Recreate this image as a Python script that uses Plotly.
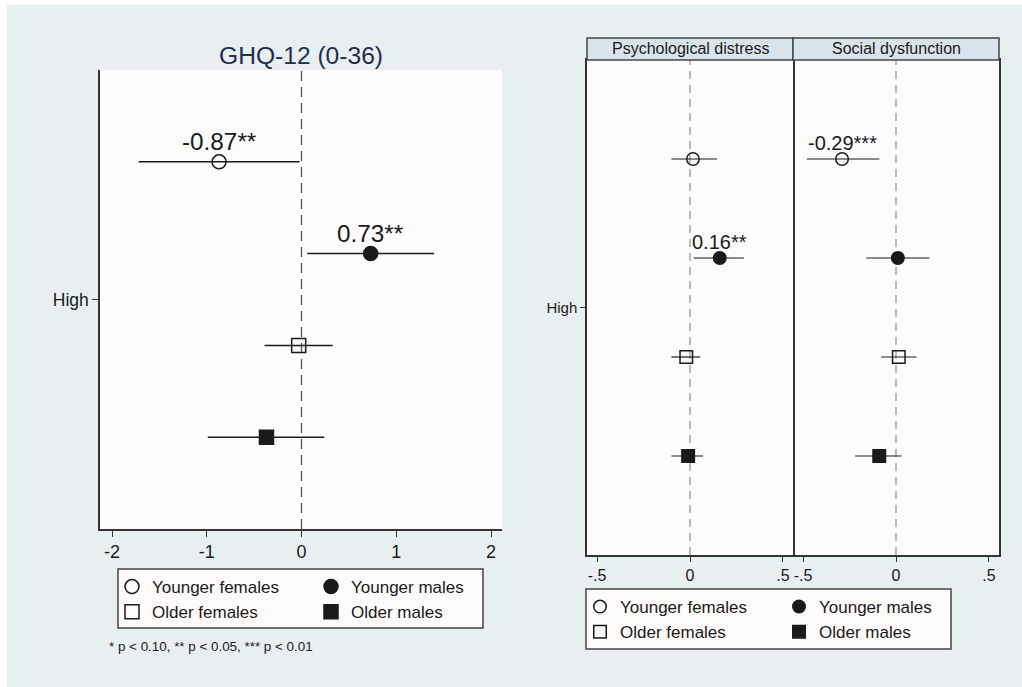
import plotly.graph_objects as go

# ---------------- data ----------------
groups = ["Younger females", "Younger males", "Older females", "Older males"]
symbols = ["circle-open", "circle", "square-open", "square"]

ghq_est = [-0.87, 0.73, -0.03, -0.37]
ghq_lo = [-1.72, 0.06, -0.39, -0.99]
ghq_hi = [-0.02, 1.40, 0.33, 0.24]
ghq_labels = ["-0.87**", "0.73**", "", ""]

psych_est = [0.016, 0.16, -0.02, -0.01]
psych_lo = [-0.10, 0.02, -0.10, -0.10]
psych_hi = [0.145, 0.29, 0.055, 0.07]
psych_labels = ["", "0.16**", "", ""]

social_est = [-0.29, 0.01, 0.015, -0.09]
social_lo = [-0.48, -0.16, -0.08, -0.22]
social_hi = [-0.09, 0.18, 0.11, 0.03]
social_labels = ["-0.29***", "", "", ""]

left_ticks = [-2, -1, 0, 1, 2]
left_ticktext = ["-2", "-1", "0", "1", "2"]
right_ticks = [-0.5, 0, 0.5]
right_ticktext = ["-.5", "0", ".5"]
panel_titles = ["Psychological distress", "Social dysfunction"]
main_title = "GHQ-12 (0-36)"
note = "* p < 0.10, ** p < 0.05, *** p < 0.01"

# ---------------- layout helpers ----------------
W, H = 1022, 687
def px(x):
    return x / W
def py(y):
    return 1 - y / H

FONT = "Liberation Sans, Arial, Helvetica, sans-serif"
BG = "#e7eff1"
PLOTBG = "#fcfcfd"
INK = "#1a1a1a"
AX = "#333333"

fig = go.Figure()

rows = [i + 1 for i in range(len(groups))]

def add_panel(est, lo, hi, xa, ya, size, thick, legends):
    for i, g in enumerate(groups):
        leg = "legend"
        if legends is not None:
            leg = legends[0] if "females" in g else legends[1]
        fig.add_trace(go.Scatter(
            x=[est[i]], y=[rows[i]], mode="markers", name=g,
            xaxis=xa, yaxis=ya,
            marker=dict(symbol=symbols[i], size=size, color=INK,
                        line=dict(color=INK, width=1.5)),
            error_x=dict(type="data", symmetric=False,
                         array=[hi[i] - est[i]], arrayminus=[est[i] - lo[i]],
                         width=0, thickness=thick, color=INK),
            showlegend=legends is not None,
            legend=leg,
        ))

add_panel(ghq_est, ghq_lo, ghq_hi, "x", "y", 14, 1.5, ("legend", "legend2"))
add_panel(psych_est, psych_lo, psych_hi, "x2", "y2", 12.5, 1.2, ("legend3", "legend4"))
add_panel(social_est, social_lo, social_hi, "x3", "y3", 12.5, 1.2, None)

annotations = []
for est, labs, xr, yr, fs, sh in [
    (ghq_est, ghq_labels, "x", "y", 24.3, 20),
    (psych_est, psych_labels, "x2", "y2", 20, 16),
    (social_est, social_labels, "x3", "y3", 20, 16),
]:
    for i, t in enumerate(labs):
        if t:
            annotations.append(dict(x=est[i], y=rows[i], xref=xr, yref=yr, text=t,
                                    showarrow=False, yshift=sh,
                                    xanchor="center", yanchor="middle",
                                    font=dict(size=fs, color=INK, family=FONT)))

annotations.append(dict(x=px(301), y=py(55), xref="paper", yref="paper", text=main_title,
                        showarrow=False, xanchor="center", yanchor="middle",
                        font=dict(size=24.6, color="#1f2e4d", family=FONT)))
annotations.append(dict(x=px(107), y=py(646), xref="paper", yref="paper", text=note,
                        showarrow=False, xanchor="left", yanchor="middle",
                        font=dict(size=13.4, color=INK, family=FONT)))
for (x0, x1), t in zip([(587, 793), (793, 999)], panel_titles):
    annotations.append(dict(x=px((x0 + x1) / 2), y=py(49), xref="paper", yref="paper", text=t,
                            showarrow=False, xanchor="center", yanchor="middle",
                            font=dict(size=16, color=INK, family=FONT)))

shapes = [
    # white outer strips
    dict(type="rect", xref="paper", yref="paper", x0=0, x1=px(7), y0=0, y1=1,
         fillcolor="white", line=dict(width=0), layer="below"),
    dict(type="rect", xref="paper", yref="paper", x0=0, x1=1, y0=py(5), y1=1,
         fillcolor="white", line=dict(width=0), layer="below"),
    # legend boxes
    dict(type="rect", xref="paper", yref="paper", x0=px(118), x1=px(483), y0=py(628), y1=py(569),
         fillcolor="#fdfbfa", line=dict(color="#444", width=1.5), layer="below"),
    dict(type="rect", xref="paper", yref="paper", x0=px(586), x1=px(951), y0=py(649), y1=py(589),
         fillcolor="#fdfbfa", line=dict(color="#444", width=1.5), layer="below"),
    # zero lines
    dict(type="line", xref="x", yref="y domain", x0=0, x1=0, y0=0, y1=1, layer="below",
         line=dict(color="#555", width=1.3, dash="10px,6px")),
    dict(type="line", xref="x2", yref="y2 domain", x0=0, x1=0, y0=0, y1=1, layer="below",
         line=dict(color="#8a9ba3", width=1.3, dash="8px,6px")),
    dict(type="line", xref="x3", yref="y3 domain", x0=0, x1=0, y0=0, y1=1, layer="below",
         line=dict(color="#8a9ba3", width=1.3, dash="8px,6px")),
]
for x0, x1 in [(587, 793), (793, 999)]:
    shapes.append(dict(type="rect", xref="paper", yref="paper", x0=px(x0), x1=px(x1),
                       y0=py(60), y1=py(38), fillcolor="#d7e4eb",
                       line=dict(color="#444", width=1.5)))

ax_common = dict(showgrid=False, zeroline=False, showline=True, linecolor=AX, linewidth=1.5,
                 ticks="outside", tickcolor=AX, tickwidth=1.3, ticklen=6,
                 tickfont=dict(family=FONT, color=INK))

yb_l, yt_l = py(529), py(70)
yb_r, yt_r = py(555), py(60)

fig.update_layout(
    width=W, height=H,
    margin=dict(l=0, r=0, t=0, b=0),
    paper_bgcolor=BG, plot_bgcolor=PLOTBG,
    font=dict(family=FONT, color=INK),
    xaxis=dict(domain=[px(100), px(502)], range=[-2.127, 2.116], tickvals=left_ticks,
               ticktext=left_ticktext,
               anchor="y", **{**ax_common, "tickfont": dict(family=FONT, color=INK, size=18)}),
    yaxis=dict(domain=[yb_l, yt_l], range=[5, 0], tickvals=[2.5], ticktext=["High"],
               anchor="x", **{**ax_common, "tickfont": dict(family=FONT, color=INK, size=17.5)}),
    xaxis2=dict(domain=[px(587), px(793)], range=[-0.554, 0.554], tickvals=right_ticks,
                ticktext=right_ticktext, anchor="y2", mirror=True,
                **{**ax_common, "tickfont": dict(family=FONT, color=INK, size=16), "ticklen": 5}),
    yaxis2=dict(domain=[yb_r, yt_r], range=[5, 0], tickvals=[2.5], ticktext=["High"],
                anchor="x2", mirror=True,
                **{**ax_common, "tickfont": dict(family=FONT, color=INK, size=15), "ticklen": 5}),
    xaxis3=dict(domain=[px(793), px(999)], range=[-0.554, 0.554], tickvals=right_ticks,
                ticktext=right_ticktext, anchor="y3", mirror=True,
                **{**ax_common, "tickfont": dict(family=FONT, color=INK, size=16), "ticklen": 5}),
    yaxis3=dict(domain=[yb_r, yt_r], range=[5, 0], showticklabels=False, anchor="x3",
                side="right", mirror=False, **{**ax_common, "ticks": ""}),
    annotations=annotations,
    shapes=shapes,
)

leg_common = dict(bgcolor="rgba(0,0,0,0)", borderwidth=0, font=dict(size=17, family=FONT, color=INK),
                  xanchor="left", yanchor="top", orientation="v", tracegroupgap=0)
fig.update_layout(
    legend=dict(x=px(112), y=py(569), **leg_common),
    legend2=dict(x=px(311), y=py(569), **leg_common),
    legend3=dict(x=px(580), y=py(589), **leg_common),
    legend4=dict(x=px(779), y=py(589), **leg_common),
)

fig.write_html("out.html", config={"displayModeBar": False},
               post_script="document.body.style.margin='0';document.body.style.overflow='hidden';")
